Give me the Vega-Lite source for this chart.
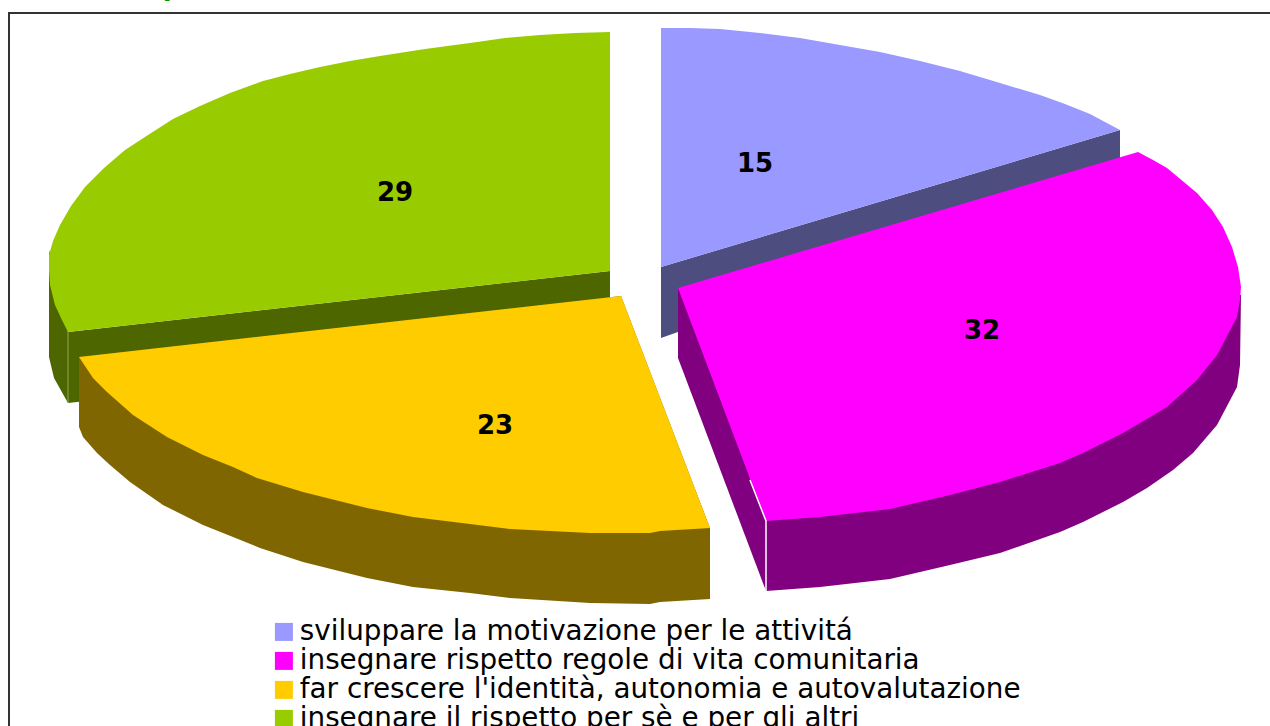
{"$schema":"https://vega.github.io/schema/vega-lite/v6.json","width":1270,"height":726,"padding":0,"autosize":"none","background":"white","view":{"stroke":null},
"datasets":{"shapes":[
{"part":"a","face":"lato 4","i":1,"x":49,"y":250},{"part":"a","face":"lato 4","i":2,"x":49,"y":357},{"part":"a","face":"lato 4","i":3,"x":54,"y":378},{"part":"a","face":"lato 4","i":4,"x":68,"y":403},{"part":"a","face":"lato 4","i":5,"x":610,"y":343},{"part":"a","face":"lato 4","i":6,"x":610,"y":271},{"part":"a","face":"lato 4","i":7,"x":68,"y":332},
{"part":"b","face":"insegnare il rispetto per sè e per gli altri","i":1,"x":610,"y":271},{"part":"b","face":"insegnare il rispetto per sè e per gli altri","i":2,"x":610,"y":32},{"part":"b","face":"insegnare il rispetto per sè e per gli altri","i":3,"x":575,"y":33},{"part":"b","face":"insegnare il rispetto per sè e per gli altri","i":4,"x":540,"y":35},{"part":"b","face":"insegnare il rispetto per sè e per gli altri","i":5,"x":505,"y":38},{"part":"b","face":"insegnare il rispetto per sè e per gli altri","i":6,"x":470,"y":43},{"part":"b","face":"insegnare il rispetto per sè e per gli altri","i":7,"x":425,"y":49},{"part":"b","face":"insegnare il rispetto per sè e per gli altri","i":8,"x":380,"y":56},{"part":"b","face":"insegnare il rispetto per sè e per gli altri","i":9,"x":350,"y":61},{"part":"b","face":"insegnare il rispetto per sè e per gli altri","i":10,"x":320,"y":67},{"part":"b","face":"insegnare il rispetto per sè e per gli altri","i":11,"x":290,"y":74},{"part":"b","face":"insegnare il rispetto per sè e per gli altri","i":12,"x":263,"y":81},{"part":"b","face":"insegnare il rispetto per sè e per gli altri","i":13,"x":230,"y":93},{"part":"b","face":"insegnare il rispetto per sè e per gli altri","i":14,"x":200,"y":106},{"part":"b","face":"insegnare il rispetto per sè e per gli altri","i":15,"x":173,"y":119},{"part":"b","face":"insegnare il rispetto per sè e per gli altri","i":16,"x":148,"y":135},{"part":"b","face":"insegnare il rispetto per sè e per gli altri","i":17,"x":125,"y":150},{"part":"b","face":"insegnare il rispetto per sè e per gli altri","i":18,"x":104,"y":168},{"part":"b","face":"insegnare il rispetto per sè e per gli altri","i":19,"x":85,"y":187},{"part":"b","face":"insegnare il rispetto per sè e per gli altri","i":20,"x":71,"y":206},{"part":"b","face":"insegnare il rispetto per sè e per gli altri","i":21,"x":60,"y":225},{"part":"b","face":"insegnare il rispetto per sè e per gli altri","i":22,"x":53,"y":241},{"part":"b","face":"insegnare il rispetto per sè e per gli altri","i":23,"x":49,"y":255},{"part":"b","face":"insegnare il rispetto per sè e per gli altri","i":24,"x":49,"y":270},{"part":"b","face":"insegnare il rispetto per sè e per gli altri","i":25,"x":50,"y":285},{"part":"b","face":"insegnare il rispetto per sè e per gli altri","i":26,"x":55,"y":305},{"part":"b","face":"insegnare il rispetto per sè e per gli altri","i":27,"x":61,"y":318},{"part":"b","face":"insegnare il rispetto per sè e per gli altri","i":28,"x":68,"y":332},
{"part":"c","face":"lato 1","i":1,"x":661,"y":267},{"part":"c","face":"lato 1","i":2,"x":1120,"y":130},{"part":"c","face":"lato 1","i":3,"x":1120,"y":175},{"part":"c","face":"lato 1","i":4,"x":661,"y":338},
{"part":"d","face":"sviluppare la motivazione per le attivitá","i":1,"x":661,"y":267},{"part":"d","face":"sviluppare la motivazione per le attivitá","i":2,"x":661,"y":28},{"part":"d","face":"sviluppare la motivazione per le attivitá","i":3,"x":690,"y":28},{"part":"d","face":"sviluppare la motivazione per le attivitá","i":4,"x":720,"y":29},{"part":"d","face":"sviluppare la motivazione per le attivitá","i":5,"x":760,"y":33},{"part":"d","face":"sviluppare la motivazione per le attivitá","i":6,"x":800,"y":38},{"part":"d","face":"sviluppare la motivazione per le attivitá","i":7,"x":840,"y":45},{"part":"d","face":"sviluppare la motivazione per le attivitá","i":8,"x":880,"y":52},{"part":"d","face":"sviluppare la motivazione per le attivitá","i":9,"x":920,"y":61},{"part":"d","face":"sviluppare la motivazione per le attivitá","i":10,"x":960,"y":71},{"part":"d","face":"sviluppare la motivazione per le attivitá","i":11,"x":1000,"y":83},{"part":"d","face":"sviluppare la motivazione per le attivitá","i":12,"x":1040,"y":95},{"part":"d","face":"sviluppare la motivazione per le attivitá","i":13,"x":1065,"y":104},{"part":"d","face":"sviluppare la motivazione per le attivitá","i":14,"x":1090,"y":114},{"part":"d","face":"sviluppare la motivazione per le attivitá","i":15,"x":1105,"y":122},{"part":"d","face":"sviluppare la motivazione per le attivitá","i":16,"x":1120,"y":130},
{"part":"e","face":"lato 3","i":1,"x":79,"y":357},{"part":"e","face":"lato 3","i":2,"x":79,"y":427},{"part":"e","face":"lato 3","i":3,"x":83,"y":437},{"part":"e","face":"lato 3","i":4,"x":97,"y":453},{"part":"e","face":"lato 3","i":5,"x":110,"y":465},{"part":"e","face":"lato 3","i":6,"x":130,"y":482},{"part":"e","face":"lato 3","i":7,"x":163,"y":505},{"part":"e","face":"lato 3","i":8,"x":203,"y":525},{"part":"e","face":"lato 3","i":9,"x":233,"y":537},{"part":"e","face":"lato 3","i":10,"x":260,"y":548},{"part":"e","face":"lato 3","i":11,"x":303,"y":562},{"part":"e","face":"lato 3","i":12,"x":367,"y":578},{"part":"e","face":"lato 3","i":13,"x":413,"y":587},{"part":"e","face":"lato 3","i":14,"x":470,"y":593},{"part":"e","face":"lato 3","i":15,"x":510,"y":598},{"part":"e","face":"lato 3","i":16,"x":590,"y":603},{"part":"e","face":"lato 3","i":17,"x":650,"y":604},{"part":"e","face":"lato 3","i":18,"x":660,"y":602},{"part":"e","face":"lato 3","i":19,"x":710,"y":599},{"part":"e","face":"lato 3","i":20,"x":710,"y":528},{"part":"e","face":"lato 3","i":21,"x":621,"y":296},
{"part":"f","face":"far crescere l'identità, autonomia e autovalutazione","i":1,"x":621,"y":296},{"part":"f","face":"far crescere l'identità, autonomia e autovalutazione","i":2,"x":79,"y":357},{"part":"f","face":"far crescere l'identità, autonomia e autovalutazione","i":3,"x":93,"y":378},{"part":"f","face":"far crescere l'identità, autonomia e autovalutazione","i":4,"x":107,"y":392},{"part":"f","face":"far crescere l'identità, autonomia e autovalutazione","i":5,"x":133,"y":415},{"part":"f","face":"far crescere l'identità, autonomia e autovalutazione","i":6,"x":150,"y":426},{"part":"f","face":"far crescere l'identità, autonomia e autovalutazione","i":7,"x":167,"y":437},{"part":"f","face":"far crescere l'identità, autonomia e autovalutazione","i":8,"x":203,"y":455},{"part":"f","face":"far crescere l'identità, autonomia e autovalutazione","i":9,"x":233,"y":467},{"part":"f","face":"far crescere l'identità, autonomia e autovalutazione","i":10,"x":257,"y":478},{"part":"f","face":"far crescere l'identità, autonomia e autovalutazione","i":11,"x":303,"y":492},{"part":"f","face":"far crescere l'identità, autonomia e autovalutazione","i":12,"x":367,"y":508},{"part":"f","face":"far crescere l'identità, autonomia e autovalutazione","i":13,"x":413,"y":517},{"part":"f","face":"far crescere l'identità, autonomia e autovalutazione","i":14,"x":470,"y":524},{"part":"f","face":"far crescere l'identità, autonomia e autovalutazione","i":15,"x":510,"y":529},{"part":"f","face":"far crescere l'identità, autonomia e autovalutazione","i":16,"x":590,"y":533},{"part":"f","face":"far crescere l'identità, autonomia e autovalutazione","i":17,"x":650,"y":533},{"part":"f","face":"far crescere l'identità, autonomia e autovalutazione","i":18,"x":660,"y":531},{"part":"f","face":"far crescere l'identità, autonomia e autovalutazione","i":19,"x":710,"y":528},
{"part":"g","face":"lato 2","i":1,"x":678,"y":288},{"part":"g","face":"lato 2","i":2,"x":678,"y":358},{"part":"g","face":"lato 2","i":3,"x":766,"y":591},{"part":"g","face":"lato 2","i":4,"x":820,"y":587},{"part":"g","face":"lato 2","i":5,"x":890,"y":579},{"part":"g","face":"lato 2","i":6,"x":950,"y":565},{"part":"g","face":"lato 2","i":7,"x":1000,"y":553},{"part":"g","face":"lato 2","i":8,"x":1060,"y":532},{"part":"g","face":"lato 2","i":9,"x":1083,"y":522},{"part":"g","face":"lato 2","i":10,"x":1123,"y":502},{"part":"g","face":"lato 2","i":11,"x":1147,"y":488},{"part":"g","face":"lato 2","i":12,"x":1173,"y":470},{"part":"g","face":"lato 2","i":13,"x":1193,"y":453},{"part":"g","face":"lato 2","i":14,"x":1217,"y":425},{"part":"g","face":"lato 2","i":15,"x":1237,"y":387},{"part":"g","face":"lato 2","i":16,"x":1240,"y":365},{"part":"g","face":"lato 2","i":17,"x":1241,"y":295},
{"part":"h","face":"insegnare rispetto regole di vita comunitaria","i":1,"x":678,"y":288},{"part":"h","face":"insegnare rispetto regole di vita comunitaria","i":2,"x":1138,"y":152},{"part":"h","face":"insegnare rispetto regole di vita comunitaria","i":3,"x":1153,"y":160},{"part":"h","face":"insegnare rispetto regole di vita comunitaria","i":4,"x":1167,"y":168},{"part":"h","face":"insegnare rispetto regole di vita comunitaria","i":5,"x":1197,"y":193},{"part":"h","face":"insegnare rispetto regole di vita comunitaria","i":6,"x":1212,"y":210},{"part":"h","face":"insegnare rispetto regole di vita comunitaria","i":7,"x":1223,"y":227},{"part":"h","face":"insegnare rispetto regole di vita comunitaria","i":8,"x":1232,"y":247},{"part":"h","face":"insegnare rispetto regole di vita comunitaria","i":9,"x":1238,"y":267},{"part":"h","face":"insegnare rispetto regole di vita comunitaria","i":10,"x":1241,"y":287},{"part":"h","face":"insegnare rispetto regole di vita comunitaria","i":11,"x":1240,"y":300},{"part":"h","face":"insegnare rispetto regole di vita comunitaria","i":12,"x":1237,"y":317},{"part":"h","face":"insegnare rispetto regole di vita comunitaria","i":13,"x":1217,"y":355},{"part":"h","face":"insegnare rispetto regole di vita comunitaria","i":14,"x":1197,"y":380},{"part":"h","face":"insegnare rispetto regole di vita comunitaria","i":15,"x":1167,"y":407},{"part":"h","face":"insegnare rispetto regole di vita comunitaria","i":16,"x":1123,"y":433},{"part":"h","face":"insegnare rispetto regole di vita comunitaria","i":17,"x":1083,"y":453},{"part":"h","face":"insegnare rispetto regole di vita comunitaria","i":18,"x":1060,"y":463},{"part":"h","face":"insegnare rispetto regole di vita comunitaria","i":19,"x":1000,"y":482},{"part":"h","face":"insegnare rispetto regole di vita comunitaria","i":20,"x":950,"y":495},{"part":"h","face":"insegnare rispetto regole di vita comunitaria","i":21,"x":890,"y":509},{"part":"h","face":"insegnare rispetto regole di vita comunitaria","i":22,"x":820,"y":517},{"part":"h","face":"insegnare rispetto regole di vita comunitaria","i":23,"x":766,"y":521}
],
"edges":[
{"edge":"magenta","i":1,"x":750,"y":480},{"edge":"magenta","i":2,"x":766,"y":521},{"edge":"magenta","i":3,"x":766,"y":591}
],
"greenEdge":[{"i":1,"x":68,"y":332},{"i":2,"x":68,"y":403}],
"frame":[{"i":1,"x":9,"y":726},{"i":2,"x":9,"y":13},{"i":3,"x":1270,"y":13}],
"labels":[{"x":755,"y":164,"v":15},{"x":982,"y":331,"v":32},{"x":495,"y":426,"v":23},{"x":395,"y":193,"v":29}],
"clipped":[{"x":172,"y":-5,"t":"p"}]},
"layer":[
{"data":{"name":"frame"},"mark":{"type":"line","stroke":"#333333","strokeWidth":2},"encoding":{"x":{"field":"x","type":"quantitative","scale":{"domain":[0,1270]},"axis":null},"y":{"field":"y","type":"quantitative","scale":{"domain":[726,0]},"axis":null},"order":{"field":"i"}}},
{"data":{"name":"shapes"},"mark":{"type":"line","filled":true,"strokeWidth":0},"encoding":{"x":{"field":"x","type":"quantitative","scale":{"domain":[0,1270]},"axis":null},"y":{"field":"y","type":"quantitative","scale":{"domain":[726,0]},"axis":null},"order":{"field":"i"},"detail":{"field":"part"},
"color":{"field":"face","type":"nominal","scale":{"domain":["sviluppare la motivazione per le attivitá","insegnare rispetto regole di vita comunitaria","far crescere l'identità, autonomia e autovalutazione","insegnare il rispetto per sè e per gli altri","lato 1","lato 2","lato 3","lato 4"],"range":["#9999FF","#FF00FF","#FFCC00","#99CC00","#4D4D80","#800080","#806600","#4D6600"]},
"legend":{"title":null,"orient":"none","legendX":270,"legendY":618,"values":["sviluppare la motivazione per le attivitá","insegnare rispetto regole di vita comunitaria","far crescere l'identità, autonomia e autovalutazione","insegnare il rispetto per sè e per gli altri"],"symbolType":"square","symbolSize":324,"symbolStrokeWidth":0,"labelFont":"DejaVu Sans","labelFontSize":27.8,"labelColor":"#000000","labelLimit":900,"labelOffset":2,"rowPadding":0,"symbolOpacity":1}}}},
{"data":{"name":"edges"},"mark":{"type":"line","stroke":"#ffffff","strokeWidth":1.5},"encoding":{"x":{"field":"x","type":"quantitative","scale":{"domain":[0,1270]},"axis":null},"y":{"field":"y","type":"quantitative","scale":{"domain":[726,0]},"axis":null},"order":{"field":"i"}}},
{"data":{"name":"greenEdge"},"mark":{"type":"line","stroke":"#8FA85A","strokeWidth":1},"encoding":{"x":{"field":"x","type":"quantitative","scale":{"domain":[0,1270]},"axis":null},"y":{"field":"y","type":"quantitative","scale":{"domain":[726,0]},"axis":null},"order":{"field":"i"}}},
{"data":{"name":"labels"},"mark":{"type":"text","font":"DejaVu Sans","fontWeight":"bold","fontSize":26,"color":"#000000","align":"center","baseline":"middle"},"encoding":{"x":{"field":"x","type":"quantitative","scale":{"domain":[0,1270]},"axis":null},"y":{"field":"y","type":"quantitative","scale":{"domain":[726,0]},"axis":null},"text":{"field":"v"}}},
{"data":{"name":"clipped"},"mark":{"type":"text","font":"DejaVu Sans","fontWeight":"bold","fontSize":26,"color":"#009900","align":"center","baseline":"alphabetic","clip":false},"encoding":{"x":{"field":"x","type":"quantitative","scale":{"domain":[0,1270]},"axis":null},"y":{"field":"y","type":"quantitative","scale":{"domain":[726,0]},"axis":null},"text":{"field":"t"}}}
],
"resolve":{"scale":{"x":"shared","y":"shared"}}}
